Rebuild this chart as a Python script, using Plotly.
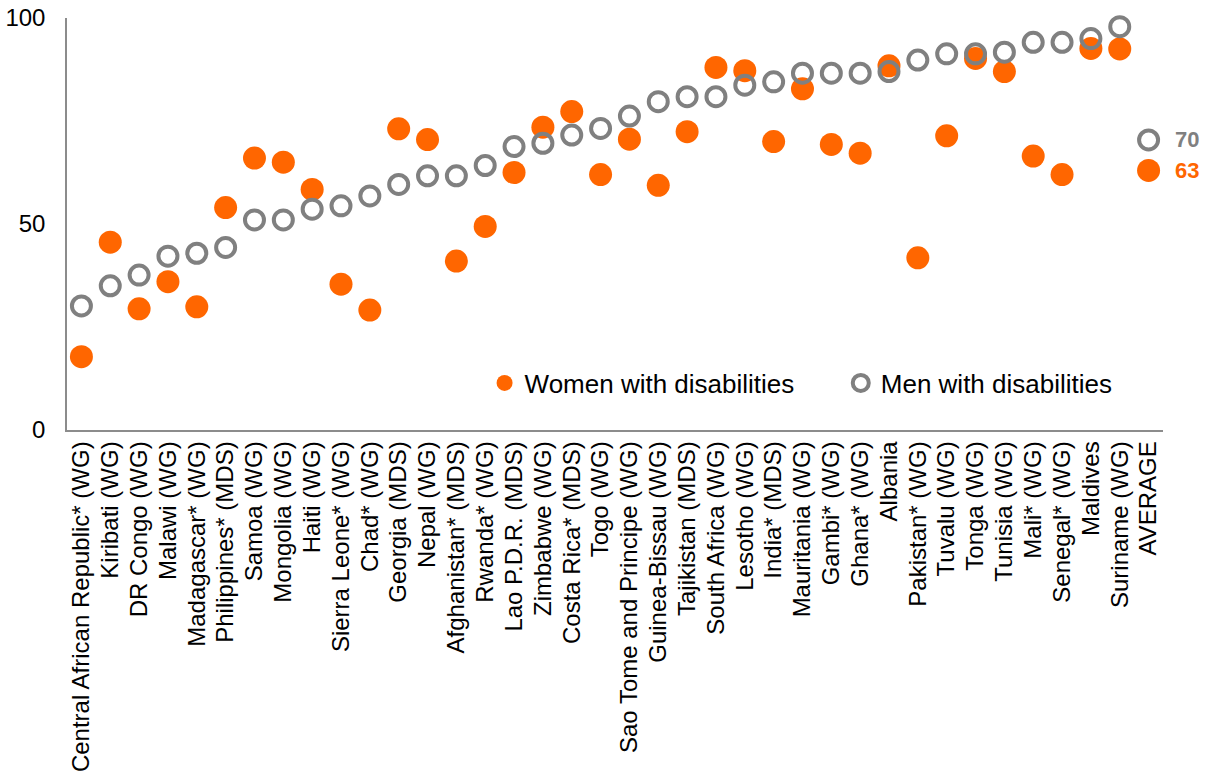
import plotly.graph_objects as go

countries = [
    "Central African Republic* (WG)", "Kiribati (WG)", "DR Congo (WG)", "Malawi (WG)",
    "Madagascar* (WG)", "Philippines* (MDS)", "Samoa (WG)", "Mongolia (WG)", "Haiti (WG)",
    "Sierra Leone* (WG)", "Chad* (WG)", "Georgia (MDS)", "Nepal (WG)", "Afghanistan* (MDS)",
    "Rwanda* (WG)", "Lao P.D.R. (MDS)", "Zimbabwe (WG)", "Costa Rica* (MDS)", "Togo (WG)",
    "Sao Tome and Principe (WG)", "Guinea-Bissau (WG)", "Tajikistan (MDS)", "South Africa (WG)",
    "Lesotho (WG)", "India* (MDS)", "Mauritania (WG)", "Gambi* (WG)", "Ghana* (WG)", "Albania",
    "Pakistan* (WG)", "Tuvalu (WG)", "Tonga (WG)", "Tunisia (WG)", "Mali* (WG)", "Senegal* (WG)",
    "Maldives", "Suriname (WG)",
]
average_label = "AVERAGE"

women = [17.8, 45.6, 29.4, 36.0, 29.9, 54.0, 66.0, 65.0, 58.4, 35.4, 29.1, 73.1, 70.5, 41.0,
         49.4, 62.5, 73.5, 77.3, 62.0, 70.6, 59.4, 72.4, 88.0, 87.2, 70.0, 82.8, 69.3, 67.2,
         88.4, 41.8, 71.4, 90.2, 87.0, 66.5, 62.0, 92.6, 92.5]
men = [30.1, 35.0, 37.6, 42.2, 42.9, 44.3, 51.0, 51.0, 53.6, 54.4, 56.8, 59.6, 61.7, 61.7,
       64.2, 68.8, 69.6, 71.6, 73.2, 76.2, 79.7, 80.9, 80.9, 83.7, 84.5, 86.6, 86.6, 86.6,
       87.0, 89.8, 91.3, 91.3, 91.7, 94.1, 94.1, 95.0, 97.9]
women_avg = 63.0
men_avg = 70.4

y_ticks = [0, 50, 100]

cats = countries + [average_label]
w_vals = women + [women_avg]
m_vals = men + [men_avg]

ORANGE = "#FF6600"
GREY = "#808080"
FONT = "Liberation Sans, Arial, sans-serif"

fig = go.Figure()
fig.add_trace(go.Scatter(
    x=cats, y=w_vals, mode="markers", name="Women with disabilities",
    cliponaxis=False, legend="legend",
    marker=dict(symbol="circle", size=23, color=ORANGE, line=dict(width=0)),
))
fig.add_trace(go.Scatter(
    x=cats, y=m_vals, mode="markers", name="Men with disabilities",
    cliponaxis=False, legend="legend2",
    marker=dict(symbol="circle-open", size=19, color=GREY, line=dict(width=4, color=GREY)),
))

for val, col in [(men_avg, GREY), (women_avg, ORANGE)]:
    fig.add_annotation(
        x=average_label, y=val, xref="x", yref="y", text=f"{val:.0f}",
        showarrow=False, xanchor="left", yanchor="middle", xshift=24,
        font=dict(family=FONT, size=22, color=col, weight="bold"),
    )

legend_style = dict(
    orientation="h", xanchor="left", y=0.114, yanchor="middle",
    font=dict(family=FONT, size=26, color="black"),
    bgcolor="rgba(0,0,0,0)", itemsizing="trace", borderwidth=0,
)

fig.update_layout(
    template="none",
    width=1205, height=778,
    margin=dict(l=67, r=42, t=18, b=348, pad=0),
    paper_bgcolor="white", plot_bgcolor="white",
    font=dict(family=FONT, size=24, color="black"),
    showlegend=True,
    legend=dict(x=0.381, **legend_style),
    legend2=dict(x=0.706, **legend_style),
    xaxis=dict(
        type="category", categoryorder="array", categoryarray=cats,
        tickmode="array", tickvals=cats, ticktext=cats,
        range=[-0.5, len(cats) - 0.5], automargin=False,
        showline=True, linecolor="#8C8C8C", linewidth=1.5,
        showgrid=False, zeroline=False, ticks="", tickangle=-90,
        tickfont=dict(family=FONT, size=24, color="black"),
    ),
    yaxis=dict(
        range=[0, 100], tickmode="array", tickvals=y_ticks,
        ticktext=[str(v) for v in y_ticks], automargin=False,
        showline=True, linecolor="#8C8C8C", linewidth=1.5,
        showgrid=False, zeroline=False, ticks="", ticklabelstandoff=15,
        ticklabeloverflow="allow",
        tickfont=dict(family=FONT, size=24, color="black"),
    ),
)

# remove the browser's default 8px body margin so the figure fills the window exactly
fig.write_html(
    "out.html",
    config={"displayModeBar": False},
    post_script="document.body.style.margin='0';",
)
